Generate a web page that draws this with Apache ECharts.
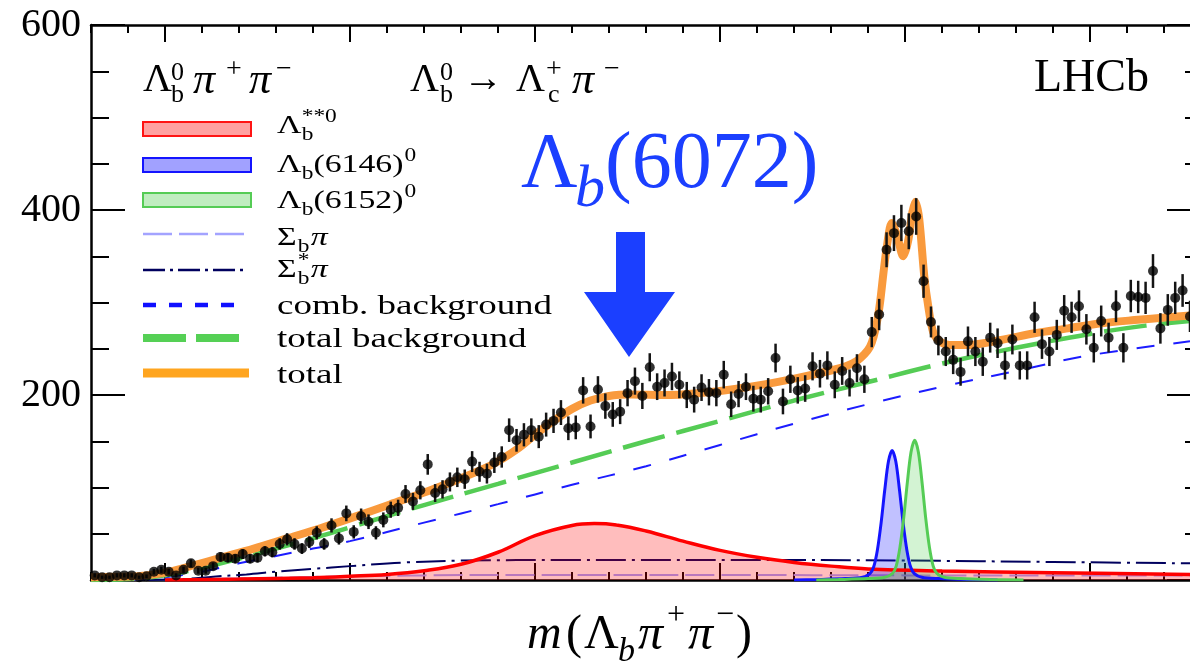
<!DOCTYPE html>
<html><head><meta charset="utf-8">
<script src="https://cdn.jsdelivr.net/npm/echarts@6/dist/echarts.min.js"></script>
<style>html,body{margin:0;padding:0;background:#fff}#c{width:1190px;height:662px}</style>
</head><body><div id="c"></div><script>
// ---------- data ----------
const binLow = 5930, binWidth = 2;
const counts = [5,3,3,5,5,5,3,4,9,11, 9,5,11,18,10,10,15,25,24,23,
 28,23,24,31,30,39,44,39,34,41, 51,39,59,45,72,52,69,63,51,65,
 76,78,93,85,97,125,94,98,106,111, 109,128,117,115,127,133,162,151,157,162,
 155,168,172,181,164,165,205,166,206,188, 179,182,202,215,199,230,209,213,220,211,
 200,195,208,203,202,222,190,201,209,196, 195,204,240,193,217,205,207,231,223,232,
 211,226,213,229,217,268,287,357,375,386, 377,393,323,279,259,247,238,225,258,247,
 236,262,256,232,260,232,232,284,255,247, 265,291,284,296,271,251,280,262,296,251,
 307,306,305,334,272,292,305,313,285];
const xMinorTicks = [5930,5940,5950,5960,5970,5980,5990,6000,6010,6020,6030,6040,6050,6060,6070,6080,6090,6100,6110,6120,6130,6140,6150,6160,6170,6180,6190,6200,6210,6220];
const xMajorTicks = [5950,6000,6050,6100,6150,6200];
const yLabelTicks = [200,400,600];
const totalFit = [[5930,3],[5940,3.8],[5945,5],[5950,8],[5956,14],[5965,24],[5974,34],[5983,45],[5992,56],[6001,68],[6011,82],[6021,96],[6030,110],[6039,126],[6045,141],[6050,157],[6055,172],[6060,185],[6065,194],[6070,199],[6076,200.5],[6085,200],[6094,202],[6103,206],[6112,211.5],[6121,218.5],[6130,226.5],[6134,231],[6137,237],[6139,244],[6140.5,252],[6141.5,263],[6142.5,281],[6143.3,302],[6144.1,330],[6145.2,364],[6146.4,386],[6147.8,373],[6149.5,350],[6150.8,366],[6152,398],[6152.8,409],[6153.8,391],[6155.2,328],[6156.3,295],[6157.6,268],[6159.5,257.6],[6162,254],[6167,254],[6176,259.5],[6185,266.7],[6194,272],[6203,277.5],[6212,281],[6221,284],[6227,286]];
const totalBkg = [[5930,0],[5940,1],[5950,5],[5960,13],[5970,23],[5980,34],[5990,45],[6000,57],[6020,81],[6040,104],[6060,127],[6080,150],[6100,172],[6120,194],[6140,214],[6160,234],[6180,251],[6200,266],[6215,275],[6227,280]];
const combBkg = [[5940,0],[5950,3],[5960,9],[5970,18],[5980,26],[5990,34],[6000,42],[6020,62],[6040,82],[6060,103],[6080,123],[6100,146],[6120,169],[6140,190],[6160,209],[6180,226],[6200,243],[6227,258]];
const lambdaStarStar = [[5950,0],[5970,1],[5990,2.5],[6000,4],[6010,6],[6020,10],[6030,17],[6040,30],[6050,48],[6060,59],[6066,61],[6072,59.5],[6080,53],[6090,42],[6100,32],[6110,24.5],[6120,19],[6130,15],[6140,12],[6160,9.8],[6190,7.8],[6227,6]];
const lambda6146 = [[6120,0],[6126,0.5],[6134,1.5],[6138.5,3],[6140.5,7],[6141.5,14],[6142.5,32],[6143.5,61],[6144.5,97],[6145.5,128],[6146.5,140],[6147.5,128],[6148.5,97],[6149.5,61],[6150.5,32],[6151.5,14],[6152.5,7],[6154.5,3],[6159,1.5],[6167,0.5],[6175,0]];
const lambda6152 = [[6126,0],[6132,0.5],[6140,1.5],[6144.5,3],[6146.6,7],[6147.6,15],[6148.6,35],[6149.6,66],[6150.6,105],[6151.6,138],[6152.6,151],[6153.6,138],[6154.6,105],[6155.6,66],[6156.6,35],[6157.6,15],[6158.6,7],[6160.6,3],[6165,1.5],[6173,0.5],[6182,0]];
const sigmaBPi = [[5935,0],[5960,1],[5980,2.5],[6000,4],[6020,5],[6050,5.5],[6100,5.5],[6150,5],[6227,5]];
const sigmaBStarPi = [[5945,0],[5955,1],[5963,3.6],[5972,6],[5980,9],[5990,12],[6000,15],[6015,19],[6030,21],[6060,21.6],[6120,21.6],[6150,21],[6190,19.5],[6227,18]];

// ---------- build ----------
const points = counts.map((v, k) => [binLow + binWidth * (k + 0.5), v]);
const FONT = 'Liberation Serif';
const XMIN = 5930, XMAX = 6227;

function mkX(pos, ticks, len, showLine) {
  return { type:'value', min:XMIN, max:XMAX, position:pos, gridIndex:0,
    axisLine:{show:showLine, onZero:false, lineStyle:{color:'#000', width:2.5}},
    axisTick:{show:true, inside:true, length:len, customValues:ticks, lineStyle:{color:'#000', width:2}},
    axisLabel:{show:false}, splitLine:{show:false}, minorTick:{show:false} };
}
function mkY(pos, interval, len, showLine, labels) {
  return { type:'value', min:0, max:600, interval:interval, position:pos,
    axisLine:{show:showLine, onZero:false, lineStyle:{color:'#000', width:2.5}},
    axisTick:{show:true, inside:true, length:len, lineStyle:{color:'#000', width:2}},
    axisLabel: labels ? {show:true, customValues:yLabelTicks, fontSize:40, fontFamily:FONT, color:'#000', margin:10} : {show:false},
    splitLine:{show:false} };
}
function curve(name, data, color, width, dash, z, area, sm) {
  const s = { type:'line', name, data, showSymbol:false, smooth: sm || 0.35, z:z,
    lineStyle:{color, width, type: dash || 'solid'}, silent:true, clip:true };
  if (area) s.areaStyle = {color: area, origin: 'start'};
  return s;
}

function T(x, y, text, size, opt) {
  opt = opt || {};
  return { type:'text', x, y, z:100, style:{ text, fill: opt.fill || '#000',
    font: (opt.italic ? 'italic ' : '') + size + 'px ' + FONT, verticalAlign:'middle', align:'left' } };
}
function G(x, y, sx, children) { return { type:'group', x, y, scaleX:sx, children }; }

const graphics = [];
// legend swatches
graphics.push({type:'rect', z:100, shape:{x:143,y:122,width:108,height:14}, style:{fill:'rgba(255,0,0,0.37)', stroke:'#ff1414', lineWidth:2}});
graphics.push({type:'rect', z:100, shape:{x:143,y:158,width:108,height:14}, style:{fill:'rgba(0,0,255,0.37)', stroke:'#1414ff', lineWidth:2}});
graphics.push({type:'rect', z:100, shape:{x:143,y:193,width:108,height:14}, style:{fill:'rgba(60,200,60,0.32)', stroke:'#55cc55', lineWidth:2}});
graphics.push({type:'line', z:100, shape:{x1:143,y1:234,x2:245,y2:234}, style:{stroke:'#a3a3ff', lineWidth:2.5, lineDash:[29,7]}});
graphics.push({type:'line', z:100, shape:{x1:143,y1:270,x2:245,y2:270}, style:{stroke:'#00005e', lineWidth:2.5, lineDash:[22,5,3,5]}});
graphics.push({type:'line', z:100, shape:{x1:143,y1:305,x2:237,y2:305}, style:{stroke:'#1010ff', lineWidth:4.5, lineDash:[13,13]}});
graphics.push({type:'line', z:100, shape:{x1:143,y1:338,x2:240,y2:338}, style:{stroke:'#55d055', lineWidth:8, lineDash:[43,10]}});
graphics.push({type:'line', z:100, shape:{x1:143,y1:373,x2:249,y2:373}, style:{stroke:'#ffa51f', lineWidth:9}});
// legend labels (stretched horizontally like the reference)
const LS = 1.3, LW = 1.32;
graphics.push(G(277, 126, LS, [T(0,0,'Λ',26), T(19,9,'b',18), T(19,-9,'**0',18)]));
graphics.push(G(277, 165, LS, [T(0,0,'Λ',26), T(19,9,'b',18), T(28,0,'(6146)',26), T(98,-9,'0',18)]));
graphics.push(G(277, 201, LS, [T(0,0,'Λ',26), T(19,9,'b',18), T(28,0,'(6152)',26), T(98,-9,'0',18)]));
graphics.push(G(277, 238, LS, [T(0,0,'Σ',26), T(16,9,'b',18), T(26,0,'π',26,{italic:true})]));
graphics.push(G(277, 270, LS, [T(0,0,'Σ',26), T(16,9,'b',18), T(16,-9,'*',18), T(26,0,'π',26,{italic:true})]));
graphics.push(G(277, 307, LW, [T(0,0,'comb. background',28)]));
graphics.push(G(277, 340, LW, [T(0,0,'total background',28)]));
graphics.push(G(277, 376, LW, [T(0,0,'total',28)]));
// header texts
graphics.push(T(143, 80, 'Λ', 40));
graphics.push(T(171, 73, '0', 26));
graphics.push(T(171, 95, 'b', 26));
graphics.push(T(193, 81, 'π', 44, {italic:true}));
graphics.push(T(226, 70, '+', 28));
graphics.push(T(249, 81, 'π', 44, {italic:true}));
graphics.push(T(276, 70, '−', 28));
graphics.push(T(410, 80, 'Λ', 40));
graphics.push(T(440, 73, '0', 26));
graphics.push(T(440, 95, 'b', 26));
graphics.push(T(463, 80, '→', 40));
graphics.push(T(516, 80, 'Λ', 40));
graphics.push(T(546, 70, '+', 28));
graphics.push(T(548, 95, 'c', 26));
graphics.push(T(572, 81, 'π', 44, {italic:true}));
graphics.push(T(604, 70, '−', 28));
graphics.push(T(1034, 79, 'LHCb', 46));
// annotation
const BLUE = '#1b3fff';
graphics.push(T(521, 166, 'Λ', 78, {fill:BLUE}));
graphics.push(T(575, 190, 'b', 60, {fill:BLUE, italic:true}));
graphics.push(T(605, 166, '(6072)', 80, {fill:BLUE}));
graphics.push({type:'polygon', z:100, shape:{points:[[616,232],[645,232],[645,292],[675,292],[629,357],[584,292],[616,292]]}, style:{fill:BLUE}});
// x axis title
graphics.push(T(527, 635, 'm', 48, {italic:true}));
graphics.push(T(566, 635, '(', 48));
graphics.push(T(584, 635, 'Λ', 48));
graphics.push(T(618, 652, 'b', 34, {italic:true}));
graphics.push(T(638, 636, 'π', 50, {italic:true}));
graphics.push(T(667, 616, '+', 32));
graphics.push(T(688, 636, 'π', 50, {italic:true}));
graphics.push(T(716, 616, '−', 32));
graphics.push(T(736, 635, ')', 48));

const option = {
  animation:false,
  backgroundColor:'#fff',
  grid:{left:91, top:25, width:1099, height:555, containLabel:false},
  xAxis:[mkX('bottom', xMinorTicks, 8, true), mkX('bottom', xMajorTicks, 17, false),
         mkX('top', xMinorTicks, 8, true), mkX('top', xMajorTicks, 17, false)],
  yAxis:[mkY('left', 200, 34, true, true), mkY('left', 50, 18, false, false),
         mkY('right', 200, 23, false, false), mkY('right', 50, 5, false, false)],
  graphic: graphics,
  series:[
    curve('Σbπ', sigmaBPi, '#a3a3ff', 2, [29,7], 2),
    curve('Σb*π', sigmaBStarPi, '#00005e', 2, [30,6,3,6], 2),
    curve('Λb**0', lambdaStarStar, '#ff0000', 3.5, null, 3, 'rgba(255,0,0,0.37)', 0.4),
    curve('Λb(6146)0', lambda6146, '#1414ff', 3, null, 3, 'rgba(0,0,255,0.35)', 0.3),
    curve('Λb(6152)0', lambda6152, '#55cc55', 3, null, 3, 'rgba(60,200,60,0.32)', 0.3),
    curve('comb. background', combBkg, '#1c1cff', 2, [18,19], 4, null, 0.4),
    curve('total background', totalBkg, '#55cc55', 4.5, [43,12], 4, null, 0.4),
    curve('total', totalFit, '#f99a3d', 8, null, 5, null, 0.3),
    { type:'custom', name:'errors', z:6, clip:true, silent:true,
      data: points.map(p => [p[0], p[1], Math.sqrt(p[1])]),
      encode:{x:0, y:1},
      renderItem:(params, api) => {
        const m = api.value(0), v = api.value(1), e = api.value(2);
        const a = api.coord([m, v - e]), b = api.coord([m, v + e]);
        return {type:'line', shape:{x1:a[0], y1:a[1], x2:b[0], y2:b[1]}, style:{stroke:'#151515', lineWidth:2.5}};
      } },
    { type:'scatter', name:'data', z:7, data:points, symbol:'circle', symbolSize:10, itemStyle:{color:'#000'}, silent:true, clip:true }
  ]
};
const chart = echarts.init(document.getElementById('c'), null, {renderer:'canvas'});
chart.setOption(option);
</script></body></html>
